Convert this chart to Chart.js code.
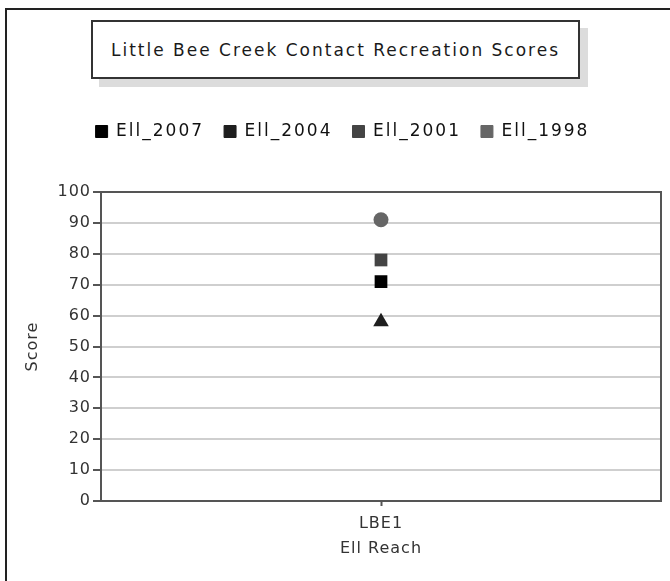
<!DOCTYPE html>
<html>
<head>
<meta charset="utf-8">
<script src="https://cdn.jsdelivr.net/npm/chart.js@4"></script>
<style>
  html, body { margin: 0; padding: 0; background: #fff; }
  body { width: 670px; height: 581px; position: relative; overflow: hidden; }
  #frame {
    position: absolute; left: 5px; top: 8px; width: 700px; height: 620px;
    border-top: 2px solid #222; border-left: 2px solid #222;
  }
  #title {
    position: absolute; left: 91px; top: 20px; width: 489px; height: 59px;
    box-sizing: border-box; border: 2px solid #333; background: #fff;
    box-shadow: 8px 8px 0 #dcdcdc;
    display: flex; align-items: center; justify-content: center;
    font: 17px "DejaVu Sans", sans-serif; letter-spacing: 2px; color: #1a1a1a;
    padding-top: 1px;
  }
  #chart { position: absolute; left: 0; top: 0; }
</style>
</head>
<body>
<div id="frame"></div>
<div id="title">Little Bee Creek Contact Recreation Scores</div>
<canvas id="chart" width="670" height="581"></canvas>
<script>
document.addEventListener('DOMContentLoaded', () => {
    const categories = ['LBE1'];
    const seriesNames = ['Ell_2007', 'Ell_2004', 'Ell_2001', 'Ell_1998'];
    const seriesValues = [[71], [58], [78], [91]];
    const seriesColors = ['#000000', '#1e1e1e', '#444444', '#666666'];
    const seriesShapes = ['rect', 'triangle', 'rect', 'circle'];
    const shapeRadius = { rect: 9, triangle: 9, circle: 7.5 };
    const yTicks = [0, 10, 20, 30, 40, 50, 60, 70, 80, 90, 100];

    const fontFamily = '"DejaVu Sans", sans-serif';
    const textColor = '#333';
    const axisColor = '#555';

    // the source font is set a bit loose
    const spacing = {
        id: 'spacing',
        beforeUpdate(chart) { chart.ctx.letterSpacing = '1px'; },
        beforeDraw(chart) { chart.ctx.letterSpacing = '1px'; }
    };

    // legend: looser text, and room between legend and plot
    const legendTweak = {
        id: 'legendTweak',
        beforeInit(chart) {
            const legend = chart.legend;
            const fit = legend.fit;
            const draw = legend.draw;
            legend.fit = function () {
                const ctx = chart.ctx;
                const old = ctx.letterSpacing;
                ctx.letterSpacing = '2px';
                fit.bind(legend)();
                ctx.letterSpacing = old;
                this.height += 42;
            };
            legend.draw = function () {
                const ctx = chart.ctx;
                const old = ctx.letterSpacing;
                ctx.letterSpacing = '2px';
                draw.bind(legend)();
                ctx.letterSpacing = old;
            };
        }
    };

    // top and right edges of the plot box
    const plotBox = {
        id: 'plotBox',
        beforeDatasetsDraw(chart) {
            const { ctx, chartArea: a } = chart;
            ctx.save();
            ctx.strokeStyle = axisColor;
            ctx.lineWidth = 2;
            ctx.beginPath();
            ctx.moveTo(a.left, a.top);
            ctx.lineTo(a.right, a.top);
            ctx.lineTo(a.right, a.bottom);
            ctx.stroke();
            ctx.restore();
        }
    };

    const datasets = seriesNames.map((name, i) => ({
        label: name,
        data: seriesValues[i],
        backgroundColor: seriesColors[i],
        borderColor: seriesColors[i],
        borderWidth: 1,
        showLine: false,
        pointStyle: seriesShapes[i],
        pointRadius: shapeRadius[seriesShapes[i]],
        pointHoverRadius: shapeRadius[seriesShapes[i]],
        pointBorderWidth: 0,
        pointBackgroundColor: seriesColors[i]
    }));

    new Chart(document.getElementById('chart'), {
        type: 'line',
        data: { labels: categories, datasets: datasets },
        options: {
            responsive: false,
            animation: false,
            layout: { padding: { top: 103, left: 20, right: 5, bottom: 21 } },
            plugins: {
                title: { display: false },
                tooltip: { enabled: false },
                legend: {
                    position: 'top',
                    labels: {
                        color: '#111',
                        font: { family: fontFamily, size: 17 },
                        boxWidth: 12,
                        boxHeight: 12,
                        padding: 20
                    }
                }
            },
            scales: {
                x: {
                    offset: true,
                    afterFit: s => { s.height = 59; },
                    grid: { offset: false, drawOnChartArea: false, tickLength: 5, tickColor: axisColor, tickWidth: 2 },
                    border: { color: axisColor, width: 2 },
                    ticks: { color: textColor, font: { family: fontFamily, size: 16 }, padding: 8 },
                    title: {
                        display: true, text: 'Ell Reach', color: textColor,
                        font: { family: fontFamily, size: 16 }, padding: { top: 2, bottom: 2 }
                    }
                },
                y: {
                    min: 0,
                    max: 100,
                    afterFit: s => { s.width = 81; },
                    afterBuildTicks: s => { s.ticks = yTicks.map(v => ({ value: v })); },
                    grid: { color: '#cfcfcf', lineWidth: 2, tickLength: 8, tickColor: axisColor, tickWidth: 2 },
                    border: { color: axisColor, width: 2 },
                    ticks: { color: textColor, font: { family: fontFamily, size: 16 }, padding: 2 },
                    title: {
                        display: true, text: 'Score', color: textColor,
                        font: { family: fontFamily, size: 16 }, padding: { top: 3, bottom: 4 }
                    }
                }
            }
        },
        plugins: [spacing, legendTweak, plotBox]
    });
});
</script>
</body>
</html>
